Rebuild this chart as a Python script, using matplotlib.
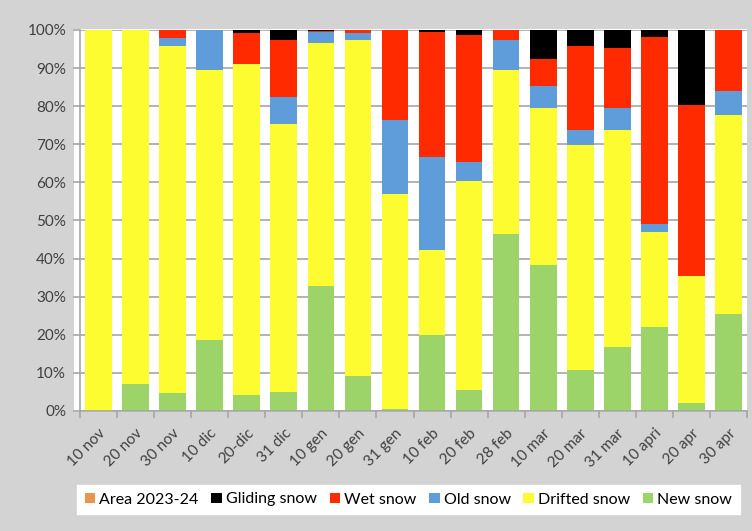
import numpy as np
import matplotlib
matplotlib.use("Agg")
import matplotlib.pyplot as plt
from matplotlib.patches import Rectangle

plt.rcParams['font.family'] = ['Lato', 'DejaVu Sans']

# Dati (percentuali)
dates = ['10 nov', '20 nov', '30 nov', '10 dic', '20-dic', '31 dic', '10 gen', '20 gen', '31 gen',
         '10 feb', '20 feb', '28 feb', '10 mar', '20 mar', '31 mar', '10 apri', '20 apr', '30 apr']
new_snow = [0, 7.2, 4.6, 18.6, 4.3, 5.0, 32.9, 9.2, 0.6, 19.9, 5.4, 46.5, 38.2, 10.7, 16.7, 22.1, 2.2, 25.4]
drifted_snow = [100, 92.8, 91.2, 70.9, 86.7, 70.2, 63.6, 88.2, 56.4, 22.4, 54.9, 43.1, 41.4, 59.0, 57.0, 24.9, 33.3, 52.3]
old_snow = [0, 0, 2.0, 10.5, 0, 7.3, 3.1, 1.9, 19.3, 24.4, 5.1, 7.8, 5.8, 4.0, 5.9, 2.0, 0, 6.2]
wet_snow = [0, 0, 2.2, 0, 8.3, 14.9, 0.1, 0.7, 23.7, 32.7, 33.3, 2.6, 6.9, 22.1, 15.8, 49.2, 44.8, 16.1]
gliding_snow = [0, 0, 0, 0, 0.7, 2.6, 0.3, 0, 0, 0.6, 1.3, 0, 7.7, 4.2, 4.6, 1.8, 19.7, 0]
area_2023_24 = [0] * 18

series = [
    ('New snow', new_snow, '#9dd46a'),
    ('Drifted snow', drifted_snow, '#fcfc30'),
    ('Old snow', old_snow, '#5e9dd9'),
    ('Wet snow', wet_snow, '#ff2a00'),
    ('Gliding snow', gliding_snow, '#000000'),
    ('Area 2023-24', area_2023_24, '#e99550'),
]

W, H = 752, 531
fig = plt.figure(figsize=(W / 100, H / 100), dpi=100, facecolor='#d3d3d3')
# sfondo bianco dell'area del grafico
fig.patches.append(Rectangle((74 / W, 1 - 412 / H), (747 - 74) / W, (412 - 29) / H,
                             transform=fig.transFigure, facecolor='white', edgecolor='none', zorder=-10))
ax = fig.add_axes([80 / W, 1 - 411 / H, (747 - 80) / W, (411 - 30) / H])
ax.set_facecolor('white')
ax.set_zorder(1)

x = np.arange(len(dates))
bottom = np.zeros(len(dates))
handles = []
for name, vals, col in series:
    b = ax.bar(x, vals, width=0.72, bottom=bottom, color=col, label=name, zorder=3, linewidth=0)
    handles.append(b)
    bottom += np.array(vals)

ax.set_xlim(-0.5, len(dates) - 0.5)
ax.set_ylim(0, 100)
ax.set_yticks(np.arange(0, 101, 10))
ax.set_yticklabels([f'{v}%' for v in range(0, 101, 10)])
ax.grid(axis='y', color='#a6a6a6', linewidth=1.2, zorder=1)
ax.set_axisbelow(True)

for s in ['top', 'right']:
    ax.spines[s].set_visible(False)
for s in ['left', 'bottom']:
    ax.spines[s].set_color('#a6a6a6')
    ax.spines[s].set_linewidth(1.2)
    ax.spines[s].set_zorder(4)

ax.tick_params(axis='y', length=5, color='#a6a6a6', width=1.2, labelsize=11, labelcolor='#404040', pad=5)
ax.set_xticks(x)
ax.set_xticklabels(dates, rotation=45, ha='right', va='top', rotation_mode='anchor')
ax.tick_params(axis='x', which='major', length=0, labelsize=11, labelcolor='#404040', pad=11)
ax.set_xticks(np.arange(-0.5, len(dates)), minor=True)
ax.tick_params(axis='x', which='minor', length=5, color='#a6a6a6', width=1.2)

leg = fig.legend(handles[::-1], [s[0] for s in series][::-1], ncol=6, loc='center',
                 bbox_to_anchor=(77 / W, 1 - 516 / H, (740 - 77) / W, 33 / H), mode='expand',
                 frameon=True, fancybox=False, framealpha=1, edgecolor='white', facecolor='white',
                 fontsize=11.5, handlelength=0.65, handleheight=0.65, handletextpad=0.25,
                 borderaxespad=0, borderpad=0.5)

fig.savefig('out.png', dpi=100, facecolor=fig.get_facecolor())
